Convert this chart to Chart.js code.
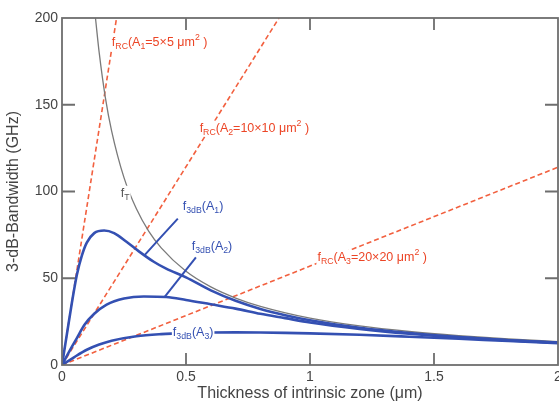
<!DOCTYPE html>
<html>
<head>
<meta charset="utf-8">
<script src="https://cdn.jsdelivr.net/npm/chart.js@4"></script>
<style>
  html, body { margin: 0; padding: 0; background: #fff; overflow: hidden; }
  #wrap { width: 559px; height: 406px; }
</style>
</head>
<body>
<div id="wrap"><canvas id="chart" width="559" height="406"></canvas></div>
<script>
const xTicks = [0, 0.5, 1, 1.5, 2];
const xTickLabels = ["0", "0.5", "1", "1.5", "2"];
const yTicks = [0, 50, 100, 150, 200];

const a1X = [0, 0.02, 0.04, 0.06, 0.08, 0.1, 0.13, 0.17, 0.21, 0.26, 0.31, 0.37, 0.42, 0.5, 0.6, 0.7, 0.8, 0.9, 1.0, 1.2, 1.4, 1.6, 1.8, 2.0];
const a1Y = [0, 18, 36, 52, 63, 70.5, 76, 77.5, 76, 71, 65.5, 59.5, 55.5, 50.5, 43, 37, 32.3, 28.7, 25.8, 21.4, 18.4, 16.1, 14.3, 12.9];

const a2X = [0, 0.03, 0.06, 0.09, 0.13, 0.18, 0.25, 0.33, 0.42, 0.5, 0.6, 0.7, 0.8, 0.9, 1.0, 1.2, 1.4, 1.6, 1.8, 2.0];
const a2Y = [0, 8, 15.5, 23, 29.5, 34.8, 38.3, 39.5, 39.2, 37.5, 35, 32.5, 29.5, 27, 24.5, 20.8, 18, 15.9, 14.2, 12.8];

const a3X = [0, 0.05, 0.1, 0.15, 0.2, 0.3, 0.4, 0.5, 0.6, 0.7, 0.8, 0.9, 1.0, 1.2, 1.4, 1.6, 1.8, 2.0];
const a3Y = [0, 4.6, 8.8, 11.8, 14, 16.6, 17.8, 18.4, 18.7, 18.8, 18.7, 18.5, 18.2, 17.4, 16.3, 15.1, 13.8, 12.6];

const fTX = [0.135, 0.15, 0.175, 0.2, 0.25, 0.3, 0.35, 0.4, 0.5, 0.6, 0.7, 0.8, 1.0, 1.2, 1.4, 1.6, 1.8, 2.0];
const fTY = [200, 180, 154, 135, 108, 90, 77, 67.5, 54, 45, 38.6, 33.8, 27, 22.5, 19.3, 16.9, 15, 13.5];

const rc1X = [0, 0.22];
const rc1Y = [0, 200];
const rc2X = [0, 0.875];
const rc2Y = [0, 200];
const rc3X = [0, 2];
const rc3Y = [0, 114];

const lead1X = [0.467, 0.334];
const lead1Y = [84.4, 63.5];
const lead2X = [0.54, 0.414];
const lead2Y = [62, 39.3];

const BLUE = "#3450b2";
const RED = "#f2603f";
const RED_TEXT = "#ec4526";
const GRAY = "#7a7a7a";
const FONT = "'Liberation Sans', Arial, sans-serif";

const notes = [
  { x: 0.201, y: 186, color: RED_TEXT, parts: [["f"], ["RC", "sub"], ["(A"], ["1", "sub"], ["=5×5 μm"], ["2", "sup"], [" )"]] },
  { x: 0.555, y: 136.5, color: RED_TEXT, parts: [["f"], ["RC", "sub"], ["(A"], ["2", "sub"], ["=10×10 μm"], ["2", "sup"], [" )"]] },
  { x: 1.03, y: 62, color: RED_TEXT, parts: [["f"], ["RC", "sub"], ["(A"], ["3", "sub"], ["=20×20 μm"], ["2", "sup"], [" )"]] },
  { x: 0.237, y: 99, color: "#555", parts: [["f"], ["T", "sub"]] },
  { x: 0.487, y: 91.5, color: BLUE, parts: [["f"], ["3dB", "sub"], ["(A"], ["1", "sub"], [")"]] },
  { x: 0.523, y: 68, color: BLUE, parts: [["f"], ["3dB", "sub"], ["(A"], ["2", "sub"], [")"]] },
  { x: 0.447, y: 18.6, color: BLUE, parts: [["f"], ["3dB", "sub"], ["(A"], ["3", "sub"], [")"]] }
];

function pts(xs, ys) {
  return xs.map((x, i) => ({ x: x, y: ys[i] }));
}

function curve(xs, ys, color, width) {
  return {
    data: pts(xs, ys),
    borderColor: color,
    borderWidth: width,
    pointRadius: 0,
    showLine: true,
    fill: false,
    cubicInterpolationMode: "monotone"
  };
}

function dashed(xs, ys) {
  return {
    data: pts(xs, ys),
    borderColor: RED,
    borderWidth: 1.6,
    borderDash: [5, 3],
    pointRadius: 0,
    showLine: true,
    fill: false
  };
}

function drawRich(ctx, parts, x, y, color, size) {
  const fontFor = mode => (mode ? size * 0.7 : size) + "px " + FONT;
  let total = 0;
  parts.forEach(p => {
    ctx.font = fontFor(p[1]);
    total += ctx.measureText(p[0]).width;
  });
  ctx.fillStyle = "#fff";
  ctx.fillRect(x - 1, y - size * 0.6, total + 2, size * 1.25);
  ctx.fillStyle = color;
  ctx.textBaseline = "middle";
  ctx.textAlign = "left";
  let cx = x;
  parts.forEach(p => {
    ctx.font = fontFor(p[1]);
    let dy = 0;
    if (p[1] === "sub") dy = size * 0.32;
    if (p[1] === "sup") dy = -size * 0.35;
    ctx.fillText(p[0], cx, y + dy);
    cx += ctx.measureText(p[0]).width;
  });
}

const overlay = {
  id: "overlay",
  afterDatasetsDraw(chart) {
    const ctx = chart.ctx;
    const a = chart.chartArea;
    const xs = chart.scales.x;
    const ys = chart.scales.y;
    ctx.save();
    notes.forEach(n => {
      drawRich(ctx, n.parts, xs.getPixelForValue(n.x), ys.getPixelForValue(n.y), n.color, 12.5);
    });
    ctx.strokeStyle = "#6e6e6e";
    ctx.lineWidth = 1.8;
    ctx.strokeRect(a.left, a.top, a.right - a.left, a.bottom - a.top);
    ctx.beginPath();
    xTicks.slice(1, -1).forEach(v => {
      const px = xs.getPixelForValue(v);
      ctx.moveTo(px, a.bottom);
      ctx.lineTo(px, a.bottom - 12);
      ctx.moveTo(px, a.top);
      ctx.lineTo(px, a.top + 12);
    });
    yTicks.slice(1, -1).forEach(v => {
      const py = ys.getPixelForValue(v);
      ctx.moveTo(a.left, py);
      ctx.lineTo(a.left + 13, py);
      ctx.moveTo(a.right, py);
      ctx.lineTo(a.right - 13, py);
    });
    ctx.stroke();
    ctx.restore();
  }
};

new Chart(document.getElementById("chart"), {
  type: "scatter",
  data: {
    datasets: [
      curve(a1X, a1Y, BLUE, 2.6),
      curve(a2X, a2Y, BLUE, 2.6),
      curve(a3X, a3Y, BLUE, 2.6),
      curve(lead1X, lead1Y, BLUE, 2),
      curve(lead2X, lead2Y, BLUE, 2),
      curve(fTX, fTY, GRAY, 1.3),
      dashed(rc1X, rc1Y),
      dashed(rc2X, rc2Y),
      dashed(rc3X, rc3Y)
    ]
  },
  options: {
    responsive: false,
    animation: false,
    layout: { padding: { top: 18, right: 1, left: 0, bottom: 0 } },
    plugins: { legend: { display: false }, tooltip: { enabled: false } },
    scales: {
      x: {
        type: "linear",
        min: 0,
        max: 2,
        afterBuildTicks: s => { s.ticks = xTicks.map(v => ({ value: v })); },
        afterFit: s => { s.height = 41; s.paddingLeft = 0; s.paddingRight = 0; },
        grid: { display: false, drawTicks: false },
        border: { display: false },
        ticks: {
          padding: 4,
          color: "#444",
          font: { family: FONT, size: 14 },
          callback: v => xTickLabels[xTicks.indexOf(v)]
        },
        title: {
          display: true,
          text: "Thickness of intrinsic zone (μm)",
          color: "#444",
          font: { family: FONT, size: 16 },
          padding: { top: 0, bottom: 3 }
        }
      },
      y: {
        type: "linear",
        min: 0,
        max: 200,
        afterBuildTicks: s => { s.ticks = yTicks.map(v => ({ value: v })); },
        afterFit: s => { s.width = 62; s.paddingTop = 0; s.paddingBottom = 0; },
        grid: { display: false, drawTicks: false },
        border: { display: false },
        ticks: {
          padding: 4,
          color: "#444",
          font: { family: FONT, size: 14 }
        },
        title: {
          display: true,
          text: "3-dB-Bandwidth (GHz)",
          color: "#444",
          font: { family: FONT, size: 16 },
          padding: { top: 4, bottom: 0 }
        }
      }
    }
  },
  plugins: [overlay]
});
</script>
</body>
</html>
